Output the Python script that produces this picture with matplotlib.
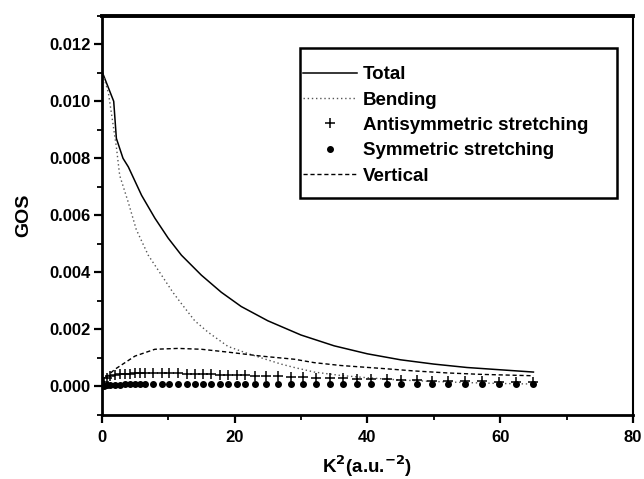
import matplotlib
matplotlib.use("Agg")
import matplotlib.pyplot as plt
from matplotlib.ticker import MultipleLocator
from matplotlib.patches import Rectangle

plt.rcParams['font.family'] = ['Liberation Sans', 'DejaVu Sans']
plt.rcParams['font.weight'] = 'bold'
plt.rcParams['mathtext.default'] = 'bf'

# Total GOS
k2_total = [0, 1.8, 2.2, 3.2, 4, 6, 8, 10, 12, 15, 18, 21, 25, 30, 35, 40, 45, 50, 55, 60, 65]
gos_total = [0.01107, 0.0100, 0.0087, 0.0080, 0.0077, 0.0067, 0.0059, 0.0052, 0.0046, 0.0039,
             0.0033, 0.0028, 0.0023, 0.0018, 0.00142, 0.00114, 0.00093, 0.00078, 0.00066,
             0.00058, 0.00050]

# Bending
k2_bend = [0, 1, 2.2, 2.7, 4, 5.2, 7, 9, 10.7, 12, 14, 16, 19, 22, 24, 27, 29, 32, 36, 40,
           45, 50, 55, 60, 65]
gos_bend = [0.0111, 0.0103, 0.0084, 0.0074, 0.00645, 0.0055, 0.0046, 0.0039, 0.0033, 0.0029,
            0.0023, 0.0019, 0.0014, 0.00115, 0.0010, 0.00078, 0.00066, 0.0005, 0.00038,
            0.0003, 0.00022, 0.00017, 0.00013, 0.0001, 0.00008]

# Vertical
k2_vert = [0, 0.5, 2, 5, 8, 11.5, 15, 19, 24, 29, 32, 36, 42, 47, 52, 57, 65]
gos_vert = [0.0001, 0.0003, 0.0006, 0.00106, 0.0013, 0.00133, 0.0013, 0.0012, 0.00106,
            0.00095, 0.00083, 0.00073, 0.00063, 0.00054, 0.00047, 0.00042, 0.00037]

# Antisymmetric / symmetric stretching (markers)
k2_pts = [0.3, 0.8, 1.3, 2.0, 2.7, 3.5, 4.2, 5.0, 5.7, 6.5, 7.7, 9.0, 10.2, 11.5, 12.8, 14.0,
          15.2, 16.5, 17.8, 19.0, 20.3, 21.6, 23.0, 24.8, 26.6, 28.5, 30.3, 32.3, 34.3, 36.3,
          38.4, 40.6, 42.9, 45.1, 47.4, 49.8, 52.2, 54.7, 57.2, 59.8, 62.4, 65.0]
gos_anti = [0.00015, 0.0003, 0.00036, 0.0004, 0.00042, 0.00043, 0.00044, 0.00045, 0.00045,
            0.00045, 0.00045, 0.00045, 0.00045, 0.00045, 0.00044, 0.00044, 0.00043, 0.00042,
            0.00041, 0.0004, 0.00039, 0.00038, 0.00037, 0.00036, 0.00035, 0.00034, 0.00032,
            0.0003, 0.00029, 0.00028, 0.00026, 0.00025, 0.00024, 0.00022, 0.00021, 0.0002,
            0.00019, 0.00018, 0.00017, 0.00016, 0.00015, 0.00014]
gos_sym = [0.00002, 0.00004, 0.00005, 0.00006, 0.00006, 0.00007, 0.00007, 0.00007, 0.00007,
           0.00007, 0.00007, 0.00007, 0.00007, 0.00007, 0.00007, 0.00007, 0.00007, 0.00007,
           0.00007, 0.00007, 0.00007, 0.00007, 0.00007, 0.00007, 0.00007, 0.00007, 0.00007,
           0.00007, 0.00007, 0.00007, 0.00007, 0.00007, 0.00007, 0.00007, 0.00007, 0.00007,
           0.00007, 0.00007, 0.00007, 0.00007, 0.00007, 0.00007]

fig = plt.figure(figsize=(6.44, 4.79), dpi=100)
ax = fig.add_axes([0.158, 0.134, 0.825, 0.833])

ax.plot(k2_total, gos_total, color='black', lw=1.1, label='Total')
ax.plot(k2_bend, gos_bend, color='#555555', lw=1.0, linestyle=(0, (1, 2)), label='Bending')
ax.plot(k2_pts, gos_anti, linestyle='none', marker='+', color='black', ms=6.5, mew=1.1,
        label='Antisymmetric stretching')
ax.plot(k2_pts, gos_sym, linestyle='none', marker='o', color='black', ms=4,
        label='Symmetric stretching')
ax.plot(k2_vert, gos_vert, color='black', lw=1.0, linestyle=(0, (3, 2)), label='Vertical')

ax.set_xlim(0, 80)
ax.set_ylim(-0.001, 0.013)
ax.xaxis.set_major_locator(MultipleLocator(20))
ax.xaxis.set_minor_locator(MultipleLocator(10))
ax.yaxis.set_major_locator(MultipleLocator(0.002))
ax.yaxis.set_minor_locator(MultipleLocator(0.001))
ax.yaxis.set_major_formatter(plt.FormatStrFormatter('%.3f'))
ax.tick_params(which='major', direction='out', length=6, width=1.6, labelsize=12)
ax.tick_params(axis='x', which='major', pad=5)
ax.tick_params(axis='y', which='major', pad=2)
ax.tick_params(which='minor', direction='out', length=3.5, width=1.3)
for s in ax.spines.values():
    s.set_linewidth(1.5)
ax.spines['top'].set_linewidth(2.8)
ax.spines['left'].set_linewidth(2.0)
ax.spines['bottom'].set_linewidth(2.0)

ax.set_xlabel(r'K$^{2}$(a.u.$^{-2}$)', fontsize=13.5, fontweight='bold', labelpad=6)
ax.set_ylabel('GOS', fontsize=14, fontweight='bold', labelpad=12)

# legend frame drawn separately (padding is uneven in the original)
ax.add_patch(Rectangle((0.373, 0.544), 0.597, 0.376, transform=ax.transAxes,
                       fill=False, edgecolor='black', lw=1.8, zorder=5))
leg = ax.legend(loc='upper left', bbox_to_anchor=(0.379, 0.874), fontsize=13.5,
                frameon=False, handlelength=2.9, handletextpad=0.3,
                labelspacing=0.44, borderpad=0, borderaxespad=0)

fig.savefig('out.png', dpi=100)
